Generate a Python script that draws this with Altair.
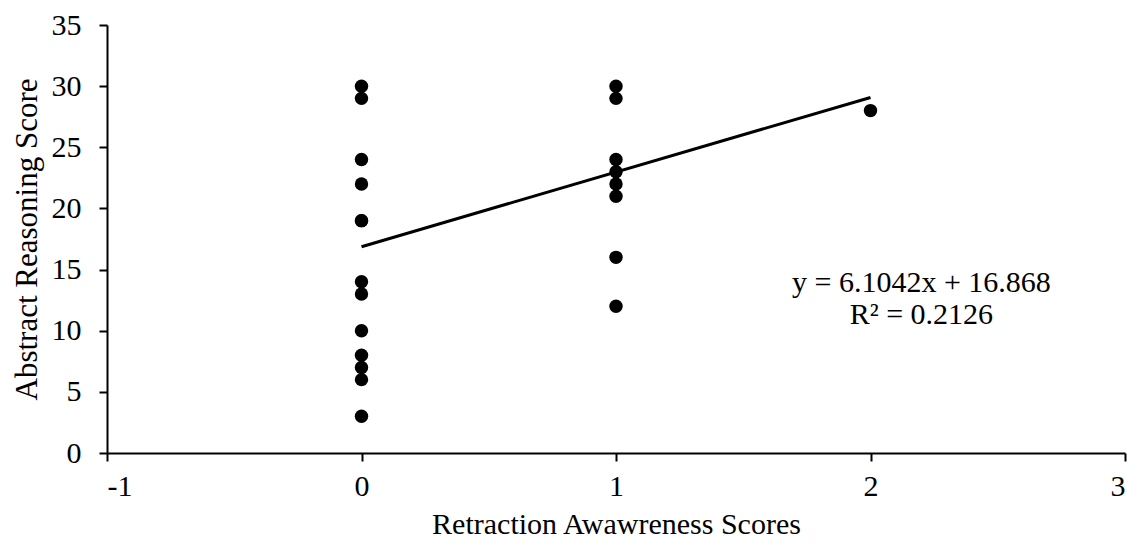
import altair as alt
import pandas as pd

x0_scores = [30, 29, 24, 22, 19, 19, 14, 13, 10, 8, 7, 6, 3]
x1_scores = [30, 29, 24, 23, 22, 21, 16, 12]
x2_scores = [28]

xs = [0] * len(x0_scores) + [1] * len(x1_scores) + [2] * len(x2_scores)
ys = x0_scores + x1_scores + x2_scores
pts = pd.DataFrame({"x": xs, "y": ys})

slope = 6.1042
intercept = 16.868
trend_x = [0, 2]
trend = pd.DataFrame({"x": trend_x, "y": [intercept + slope * v for v in trend_x]})

labels = pd.DataFrame({
    "x": [2.2, 2.2],
    "y": [13.9, 11.25],
    "text": ["y = 6.1042x + 16.868", "R² = 0.2126"],
})

x_ticks = [-1, 0, 1, 2, 3]
y_ticks = [0, 5, 10, 15, 20, 25, 30, 35]

FONT = "Liberation Serif"

xscale = alt.Scale(domain=[-1, 3], nice=False, zero=False)
yscale = alt.Scale(domain=[0, 35], nice=False)

xaxis = alt.Axis(values=x_ticks, title="Retraction Awawreness Scores", labelExpr="datum.value + ''",
                 labelPadding=10, titlePadding=8, titleFontSize=30)
yaxis = alt.Axis(values=y_ticks, title="Abstract Reasoning Score", labelExpr="datum.value + ''",
                 labelPadding=18, titlePadding=8)

X = alt.X("x:Q", scale=xscale, axis=xaxis)
Y = alt.Y("y:Q", scale=yscale, axis=yaxis)

points = alt.Chart(pts).mark_circle(size=180, color="black", opacity=1).encode(x=X, y=Y)

line = alt.Chart(trend).mark_line(color="black", strokeWidth=3).encode(x=X, y=Y)

text = alt.Chart(labels).mark_text(font=FONT, fontSize=30, color="black", align="center",
                                   baseline="middle").encode(x=X, y=Y, text="text:N")

chart = alt.layer(line, points, text).properties(
    width=1018, height=428,
    autosize=alt.AutoSizeParams(type="none"),
    padding={"left": 99, "top": 17, "right": 3, "bottom": 87},
    background="white",
).configure_view(stroke=None).configure_axis(
    grid=False,
    domainColor="black", domainWidth=2, tickColor="black", tickWidth=2, tickSize=8,
    labelFont=FONT, labelFontSize=30, labelColor="black",
    titleFont=FONT, titleFontSize=31, titleFontWeight="normal", titleColor="black",
)

chart.save("out.html", embed_options={"renderer": "svg", "actions": False})
